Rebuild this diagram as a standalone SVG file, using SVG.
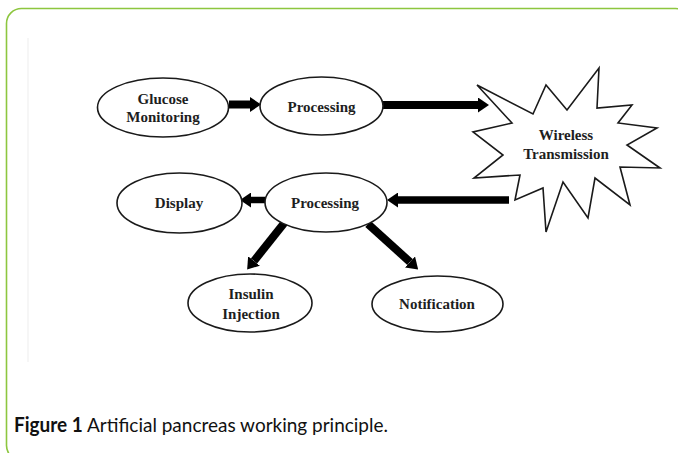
<svg xmlns="http://www.w3.org/2000/svg" width="678" height="453" viewBox="0 0 678 453">
<style>
.node ellipse{fill:#fff;stroke:#1a1a1a;stroke-width:1.6}
.node polygon{fill:#fff;stroke:#1a1a1a;stroke-width:1.6;stroke-linejoin:miter}
.lbl{font-family:"Liberation Serif","Times New Roman",serif;font-weight:bold;font-size:15px;fill:#1e1e1e;text-anchor:middle}
.conn line{stroke:#000;stroke-width:8;marker-end:url(#ah)}
.cap{font-family:Lato,"Noto Sans",sans-serif;font-size:20px;fill:#111}
</style>
<defs>
<marker id="ah" markerUnits="userSpaceOnUse" markerWidth="11" markerHeight="15" viewBox="0 0 11 15" refX="0" refY="7.5" orient="auto">
<path d="M0,0 L11,7.5 L0,15 Z" fill="#000"/>
</marker>
</defs>
<rect x="6.5" y="8.5" width="684" height="452" rx="15" ry="15" fill="#fff" stroke="#8DC63F" stroke-width="1.6"/>
<line x1="28" y1="38" x2="28" y2="362" stroke="#f3f3f3" stroke-width="1.5"/>

<g id="connectors" class="conn">
<line x1="229" y1="104.5" x2="250" y2="104.5"/>
<line x1="383" y1="105" x2="478" y2="105"/>
<line x1="509" y1="200" x2="398" y2="200" style="stroke-width:7.5"/>
<line x1="266" y1="200" x2="251" y2="200" style="stroke-width:6.5"/>
<line x1="285" y1="222" x2="254" y2="261"/>
<line x1="368" y1="224" x2="410" y2="262"/>
</g>

<g id="glucose" class="node">
<ellipse cx="163" cy="107.5" rx="65.5" ry="29.5"/>
<text class="lbl" x="163" y="104">Glucose</text>
<text class="lbl" x="163" y="122">Monitoring</text>
</g>
<g id="processing1" class="node">
<ellipse cx="321.5" cy="106" rx="61.5" ry="29"/>
<text class="lbl" x="321.5" y="111.5">Processing</text>
</g>
<g id="wireless" class="node">
<polygon points="477,85 533,114 546,85 567,110 599,68 597,108 632,105 618,123 657,128 627,145 660,168 620,167 630,205 595,178 588,218 563,182 546,232 543,188 515,200 520,175 474,178 503,155 473,132 512,123"/>
<text class="lbl" x="566" y="140">Wireless</text>
<text class="lbl" x="566" y="159">Transmission</text>
</g>
<g id="display" class="node">
<ellipse cx="179.5" cy="203" rx="62.5" ry="30"/>
<text class="lbl" x="179" y="208">Display</text>
</g>
<g id="processing2" class="node">
<ellipse cx="326" cy="202.5" rx="61" ry="29.5"/>
<text class="lbl" x="325" y="208">Processing</text>
</g>
<g id="insulin" class="node">
<ellipse cx="250" cy="303" rx="62" ry="29"/>
<text class="lbl" x="251" y="299">Insulin</text>
<text class="lbl" x="251" y="319">Injection</text>
</g>
<g id="notification" class="node">
<ellipse cx="437.5" cy="304" rx="65.5" ry="28"/>
<text class="lbl" x="437" y="309">Notification</text>
</g>

<text class="cap" x="14" y="432" textLength="374" lengthAdjust="spacingAndGlyphs"><tspan font-weight="bold">Figure 1</tspan> Artificial pancreas working principle.</text>
</svg>
